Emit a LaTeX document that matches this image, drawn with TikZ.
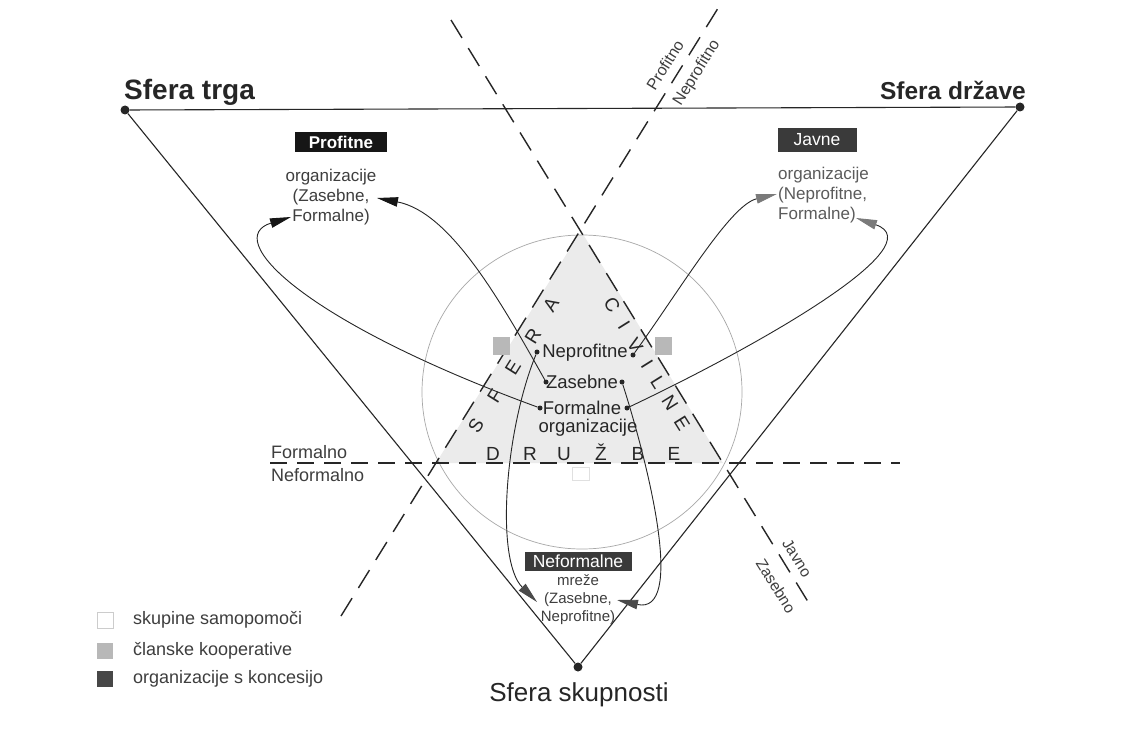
\documentclass[tikz,border=0pt]{standalone}
\usepackage{fontspec}
\setmainfont{Liberation Sans}
\usetikzlibrary{arrows.meta}
\definecolor{ink}{HTML}{262626}
\definecolor{soft}{HTML}{3E3E3E}
\definecolor{circ}{HTML}{A8A8A8}
\definecolor{civgrey}{HTML}{EBEBEB}
\definecolor{lgrey}{HTML}{B8B8B8}
\definecolor{dgrey}{HTML}{474747}
\definecolor{boxblack}{HTML}{161616}
\definecolor{boxgrey}{HTML}{3A3A3A}
\definecolor{tipgrey}{HTML}{7A7A7A}
\definecolor{tipdark}{HTML}{4A4A4A}
\begin{document}
\begin{tikzpicture}[x=1pt,y=-1pt,
  side/.style={draw=ink,line width=1.1pt},
  divider/.style={draw=ink,line width=1.4pt,dash pattern=on 21pt off 12pt},
  bigdot/.style={circle,fill=ink,inner sep=0pt,minimum size=9pt},
  smalldot/.style={circle,fill=ink,inner sep=0pt,minimum size=5pt},
  link/.style={draw=ink,line width=0.9pt},
  headblack/.style={-{Triangle[length=21pt,width=9.5pt,color=boxblack]}},
  headdark/.style={-{Triangle[length=21pt,width=9.5pt,color=tipdark]}},
  headgrey/.style={-{Triangle[length=21pt,width=9.5pt,color=tipgrey]}},
  ctext/.style={font=\fontsize{18.5}{20}\selectfont,text=ink,inner sep=0pt},
  ltext/.style={font=\fontsize{17}{20}\selectfont,text=soft,inner sep=0pt},
  ntext/.style={font=\fontsize{15}{18}\selectfont,text=soft,inner sep=0pt},
  sphere/.style={font=\fontsize{26}{26}\selectfont,text=ink,inner sep=0pt},
  letter/.style={font=\fontsize{19}{19}\selectfont,text=ink,inner sep=0pt},
  axis/.style={font=\fontsize{16}{16}\selectfont,text=soft,inner sep=0pt},
  legtext/.style={font=\fontsize{18}{20}\selectfont,text=soft,inner sep=0pt,anchor=west},
  legsq/.style={minimum width=16pt,minimum height=16pt,inner sep=0pt},
  tagbox/.style={text=white,inner sep=0pt,font=\fontsize{17.5}{18}\selectfont}
]
\useasboundingbox (0,0) rectangle (1129,733);
\fill[white] (0,0) rectangle (1129,733);

% shaded civil-society triangle
\begin{scope}
  \clip (582,392) ellipse[x radius=160pt,y radius=157pt];
  \fill[civgrey] (581,231) -- (436,463) -- (723,463) -- cycle;
\end{scope}
\draw[circ,line width=0.7pt] (582,392) ellipse[x radius=160pt,y radius=157pt];

% triangle of spheres
\node[bigdot] (trg) at (125,110) {};
\node[bigdot] (drz) at (1020,107) {};
\node[bigdot] (sku) at (578,667) {};
\draw[side] (trg) -- (drz);
\draw[side] (trg) -- (sku);
\draw[side] (drz) -- (sku);
\node[sphere,font=\bfseries\fontsize{28}{28}\selectfont,anchor=base west] (ltrg) at (124,100) {Sfera trga};
\node[sphere,font=\bfseries\fontsize{24.5}{26}\selectfont,anchor=base east] (ldrz) at (1026,100) {Sfera države};
\node[sphere,anchor=base] (lsku) at (579,701) {Sfera skupnosti};

% dividing dashed lines
\coordinate (Ltop) at (720,5);
\coordinate (Lbot) at (341,616);
\coordinate (Rtop) at (451,20);
\coordinate (Rbot) at (810,605);
\coordinate (Hl) at (270,463);
\coordinate (Hr) at (900,463);
\draw[divider] (Lbot) -- (Ltop);
\draw[divider] (Rtop) -- (Rbot);
\draw[divider,dash pattern=on 17pt off 10pt] (Hl) -- (Hr);

\node[axis,rotate=58] (profitno) at (665,65) {Profitno};
\node[axis,rotate=58] (neprofitno) at (697,73) {Neprofitno};
\node[axis,rotate=-58,font=\fontsize{15.5}{16}\selectfont] (javno) at (797,558) {Javno};
\node[axis,rotate=-58,font=\fontsize{15.5}{16}\selectfont] (zasebno) at (776,586) {Zasebno};
\node[legtext] (formalno) at (271,452) {Formalno};
\node[legtext] (neformalno) at (271,475) {Neformalno};

% SFERA CIVILNE DRUZBE
\node[letter,rotate=58] (s1) at (476,426) {S};
\node[letter,rotate=58] (s2) at (495,396) {F};
\node[letter,rotate=58] (s3) at (513,368) {E};
\node[letter,rotate=58] (s4) at (533,336) {R};
\node[letter,rotate=58] (s5) at (551,305) {A};
\node[letter,rotate=-58] (c1) at (612,305) {C};
\node[letter,rotate=-58] (c2) at (624,325) {I};
\node[letter,rotate=-58] (c3) at (635,345) {V};
\node[letter,rotate=-58] (c4) at (647,364) {I};
\node[letter,rotate=-58] (c5) at (658,383) {L};
\node[letter,rotate=-58] (c6) at (670,403) {N};
\node[letter,rotate=-58] (c7) at (682,423) {E};
\node[letter,anchor=base] (d1) at (493,460) {D};
\node[letter,anchor=base] (d2) at (530,460) {R};
\node[letter,anchor=base] (d3) at (564,460) {U};
\node[letter,anchor=base] (d4) at (601,460) {Ž};
\node[letter,anchor=base] (d5) at (638,460) {B};
\node[letter,anchor=base] (d6) at (674,460) {E};

% small squares
\node[legsq,fill=lgrey,minimum width=17pt,minimum height=18pt] (sqL) at (501,346) {};
\node[legsq,fill=lgrey,minimum width=17pt,minimum height=18pt] (sqR) at (663,346) {};
\node[legsq,draw=black!12,line width=0.5pt,fill=white,minimum width=17pt,minimum height=13pt] (sqC) at (581,474) {};

% central labels
\node[ctext] (nep) at (585,353) {Neprofitne};
\node[ctext] (zas) at (582,382) {Zasebne};
\node[ctext] (frm) at (582,408) {Formalne};
\node[ctext] (org) at (588,428) {organizacije};
\node[smalldot] (npL) at (537,352) {};
\node[smalldot] (npR) at (633,355) {};
\node[smalldot] (zsL) at (546,382) {};
\node[smalldot] (zsR) at (622,382) {};
\node[smalldot] (fmL) at (540,408) {};
\node[smalldot] (fmR) at (627,408) {};

% corner labels
\node[tagbox,fill=boxblack,font=\bfseries\fontsize{17}{18}\selectfont,minimum width=92pt,minimum height=20pt] (tprof) at (341,142) {Profitne};
\node[ltext,align=center] (gprof) at (331,197) {organizacije\\(Zasebne,\\Formalne)};
\node[tagbox,fill=boxgrey,minimum width=79pt,minimum height=23pt] (tjav) at (817,140) {Javne};
\node[ltext,align=left,anchor=west,text=soft!85] (gjav) at (778,195) {organizacije\\(Neprofitne,\\Formalne)};
\node[tagbox,fill=boxgrey,minimum width=107pt,minimum height=19pt] (tnef) at (578,561) {Neformalne};
\node[ntext,align=center] (gnef) at (578,600) {mreže\\(Zasebne,\\Neprofitne)};

% arrow targets
\coordinate (tFP) at (291,217);
\coordinate (tZP) at (377,198);
\coordinate (tNJ) at (777,194);
\coordinate (tFJ) at (856,218);
\coordinate (tZN) at (537,602);
\coordinate (tNN) at (617,600);

\draw[link,headblack] (fmL) .. controls (300,320) and (222,238) .. (tFP);
\draw[link,headblack] (zsL) .. controls (500,300) and (450,212) .. (tZP);
\draw[link,headgrey] (npR) .. controls (680,290) and (730,205) .. (tNJ);
\draw[link,headgrey] (fmR) .. controls (760,345) and (935,245) .. (tFJ);
\draw[link,headdark] (npL) .. controls (505,430) and (495,560) .. (tZN);
\draw[link,headdark] (zsR) .. controls (650,470) and (685,615) .. (tNN);

% legend
\node[legsq,draw=black!20,line width=0.5pt,fill=white] (lg1) at (105,620) {};
\node[legsq,fill=lgrey] (lg2) at (105,651) {};
\node[legsq,fill=dgrey] (lg3) at (105,679) {};
\node[legtext] (lt1) at (133,620) {skupine samopomoči};
\node[legtext] (lt2) at (133,651) {članske kooperative};
\node[legtext] (lt3) at (133,679) {organizacije s koncesijo};
\end{tikzpicture}
\end{document}
